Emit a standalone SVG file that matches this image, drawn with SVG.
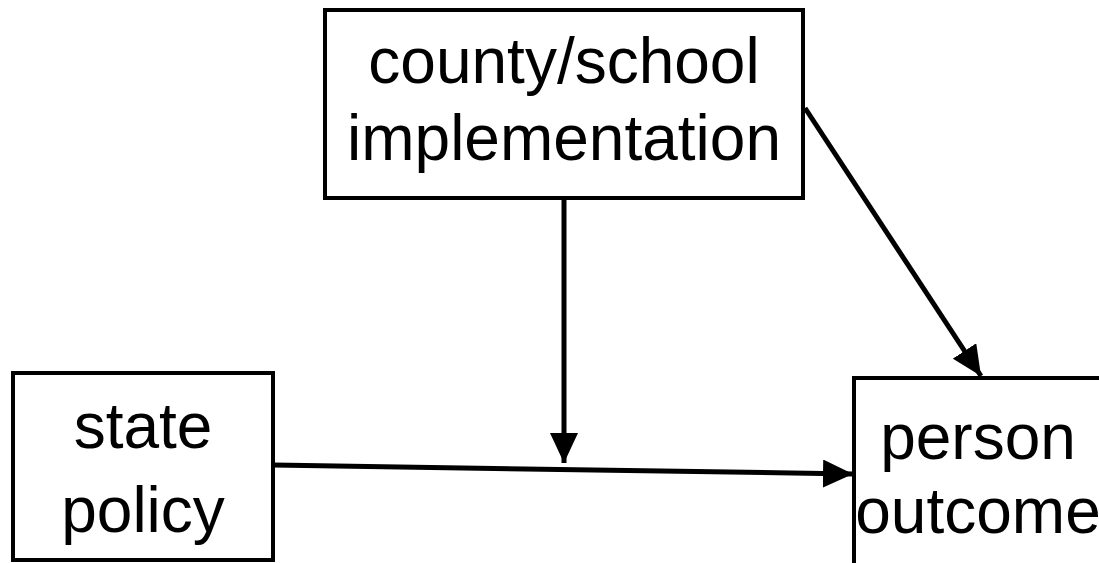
<svg xmlns="http://www.w3.org/2000/svg" width="1099" height="563" viewBox="0 0 1099 563">
<style>
.box{fill:#fff;stroke:#000;stroke-width:4}
.lbl{font-family:"Liberation Sans",Arial,sans-serif;font-size:64px;fill:#000;text-anchor:middle}
.edge{stroke:#000;stroke-width:5;fill:none}
</style>
<defs>
<marker id="arr" markerWidth="30" markerHeight="28" refX="30" refY="14" orient="auto" markerUnits="userSpaceOnUse">
<path d="M0,0 L30,14 L0,28 Z" fill="#000"/>
</marker>
</defs>
<rect width="1099" height="563" fill="#fff"/>
<g id="node-county">
<rect class="box" x="325" y="10" width="478" height="188"/>
<text class="lbl" x="564" y="83">county/school</text>
<text class="lbl" x="564" y="160">implementation</text>
</g>
<g id="node-state">
<rect class="box" x="13" y="373" width="260" height="187"/>
<text class="lbl" x="143" y="448">state</text>
<text class="lbl" x="143" y="532">policy</text>
</g>
<g id="node-person">
<rect class="box" x="854" y="378" width="250" height="200"/>
<text class="lbl" x="978" y="459">person</text>
<text class="lbl" x="978" y="533">outcome</text>
</g>
<g id="connectors">
<line class="edge" x1="564" y1="198" x2="564" y2="463" marker-end="url(#arr)"/>
<line class="edge" x1="273" y1="465" x2="853" y2="474" marker-end="url(#arr)"/>
<line class="edge" x1="805" y1="108" x2="981" y2="376" marker-end="url(#arr)"/>
</g>
</svg>
